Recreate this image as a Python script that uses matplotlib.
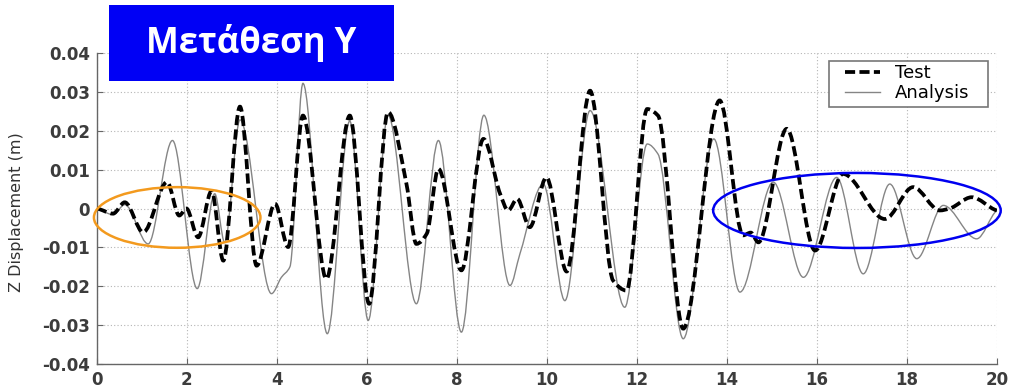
import numpy as np
import matplotlib
matplotlib.use("Agg")
import matplotlib.pyplot as plt
from matplotlib.path import Path
from matplotlib.patches import PathPatch, Ellipse, Rectangle
from matplotlib.lines import Line2D

# Measured response: time (s) and Z displacement (m)
t_test = [0.0, 0.36, 0.62, 1.03, 1.56, 1.83, 1.99, 2.25, 2.55, 2.81, 3.18, 3.55,
          3.96, 4.25, 4.58, 5.10, 5.62, 6.05, 6.47, 6.88, 7.10, 7.33, 7.59, 8.10,
          8.59, 8.96, 9.14, 9.34, 9.62, 9.99, 10.44, 10.96, 11.47, 11.77, 12.23,
          12.47, 13.03, 13.84, 14.36, 14.53, 14.70, 15.33, 15.96, 16.58, 17.51,
          18.14, 18.73, 18.95, 19.44, 20.0]
z_test = [0.0, -0.0013, 0.0016, -0.0061, 0.0068, -0.0018, 0.0, -0.0074, 0.0045,
          -0.0134, 0.0262, -0.0147, 0.0012, -0.0099, 0.0239, -0.0181, 0.0239,
          -0.0245, 0.0248, 0.0063, -0.0091, -0.0065, 0.0102, -0.0159, 0.0179,
          0.0038, -0.0005, 0.0025, -0.0048, 0.0080, -0.0162, 0.0303, -0.0185,
          -0.0211, 0.0256, 0.0239, -0.0309, 0.0278, -0.0069, -0.0062, -0.0087,
          0.0205, -0.0108, 0.0089, -0.0027, 0.0055, -0.0005, 0.0000, 0.0029,
          -0.0005]

# Computed response
t_analysis = [0.0, 0.36, 0.62, 1.14, 1.68, 2.23, 2.62, 2.84, 3.18, 3.88, 4.10,
              4.29, 4.58, 5.12, 5.62, 6.03, 6.47, 7.10, 7.59, 8.10, 8.60, 9.18,
              9.40, 9.92, 10.40, 10.96, 11.73, 12.23, 12.47, 13.03, 13.71, 14.29,
              15.03, 15.70, 16.44, 17.03, 17.62, 18.22, 18.81, 19.55, 20.0]
z_analysis = [0.0, -0.0016, 0.0010, -0.0091, 0.0175, -0.0206, 0.0038, -0.0087,
              0.0228, -0.0219, -0.0177, -0.0150, 0.0322, -0.0322, 0.0225, -0.0288,
              0.0240, -0.0245, 0.0175, -0.0318, 0.0240, -0.0198, -0.0117, 0.0063,
              -0.0237, 0.0252, -0.0254, 0.0166, 0.0140, -0.0335, 0.0179, -0.0215,
              0.0068, -0.0177, 0.0080, -0.0168, 0.0063, -0.0129, 0.0008, -0.0078,
              -0.0005]

x_ticks = list(range(0, 21, 2))
y_ticks = [-0.04, -0.03, -0.02, -0.01, 0, 0.01, 0.02, 0.03, 0.04]
y_ticklabels = ["-0.04", "-0.03", "-0.02", "-0.01", "0", "0.01", "0.02", "0.03", "0.04"]


def smooth_path(x, y):
    """Bezier path through the points with shape-preserving (PCHIP) tangents."""
    x = np.asarray(x, float)
    y = np.asarray(y, float)
    h = np.diff(x)
    d = np.diff(y) / h
    m = np.zeros_like(y)
    for k in range(1, len(x) - 1):
        if d[k - 1] * d[k] > 0:
            w1 = 2 * h[k] + h[k - 1]
            w2 = h[k] + 2 * h[k - 1]
            m[k] = (w1 + w2) / (w1 / d[k - 1] + w2 / d[k])
    m[0] = d[0] * 0.5
    m[-1] = d[-1] * 0.5
    verts = [(x[0], y[0])]
    codes = [Path.MOVETO]
    for k in range(len(x) - 1):
        verts += [(x[k] + h[k] / 3, y[k] + m[k] * h[k] / 3),
                  (x[k + 1] - h[k] / 3, y[k + 1] - m[k + 1] * h[k] / 3),
                  (x[k + 1], y[k + 1])]
        codes += [Path.CURVE4] * 3
    return Path(verts, codes)


W, H = 1009, 387
fig = plt.figure(figsize=(W / 100, H / 100), dpi=100)
ax = fig.add_axes([0.096, 0.0594, 0.892, 0.8036])

gray = "#858585"
dash = (0, (2.7, 1.15))
test_lw = 2.7

ax.add_patch(PathPatch(smooth_path(t_analysis, z_analysis), fill=False,
                       edgecolor=gray, linewidth=1.0, zorder=3))
ax.add_patch(PathPatch(smooth_path(t_test, z_test), fill=False,
                       edgecolor="black", linewidth=test_lw, linestyle=dash,
                       capstyle="butt", zorder=4))

ax.set_xlim(0, 20)
ax.set_ylim(-0.04, 0.04)
ax.set_xticks(x_ticks)
ax.set_yticks(y_ticks)
ax.set_yticklabels(y_ticklabels)
ax.grid(True, color="#b5b5b5", linestyle=(0, (1, 2)), linewidth=0.8)
ax.set_axisbelow(True)

for s in ("top", "right"):
    ax.spines[s].set_visible(False)
for s in ("left", "bottom"):
    ax.spines[s].set_color("#666666")
    ax.spines[s].set_linewidth(1.0)

ax.tick_params(direction="in", length=4, color="#666666", labelsize=12,
               labelcolor="#3c3c3c", pad=5)
for lab in ax.get_xticklabels() + ax.get_yticklabels():
    lab.set_fontweight("bold")
    lab.set_family("DejaVu Sans")

ax.set_ylabel("Z Displacement (m)", fontsize=11.5, color="#333333",
              family="DejaVu Sans")
ax.yaxis.set_label_coords(-0.081, 0.49)

# Legend: boxed frame with wider side margins
ax.add_patch(Rectangle((829 / W, 1 - 107 / H), 159 / W, 46 / H,
                       transform=fig.transFigure, facecolor="white",
                       edgecolor="#777777", linewidth=1.2, zorder=6,
                       clip_on=False))
handles = [Line2D([], [], color="black", linewidth=test_lw, linestyle=dash),
           Line2D([], [], color=gray, linewidth=1.0)]
leg = ax.legend(handles, ["Test", "Analysis"], loc="upper left",
                bbox_to_anchor=(845 / W, 1 - 64 / H),
                bbox_transform=fig.transFigure, borderaxespad=0.0,
                frameon=False, handlelength=1.94, borderpad=0.0,
                labelspacing=0.12, handletextpad=0.83,
                prop={"family": "DejaVu Sans", "size": 13})
leg.set_zorder(7)

# Highlighted regions
ax.add_patch(Ellipse((1.785, -0.0023), 3.70, 0.0156, fill=False,
                     edgecolor="#F39A1E", linewidth=1.8, zorder=5, clip_on=False))
ax.add_patch(Ellipse((16.89, -0.0005), 6.39, 0.0193, fill=False,
                     edgecolor="#0000F0", linewidth=1.8, zorder=5, clip_on=False))

# Title banner
fig.patches.append(Rectangle((109 / W, 1 - 81 / H), 285 / W, 76 / H,
                             transform=fig.transFigure, facecolor="#0000F5",
                             edgecolor="none", zorder=10))
fig.text(251.5 / W, 1 - 43 / H, "Μετάθεση Υ", color="white",
         fontsize=25, fontweight="bold", family="Open Sans",
         ha="center", va="center", zorder=11)

fig.savefig("out.png", dpi=100)
